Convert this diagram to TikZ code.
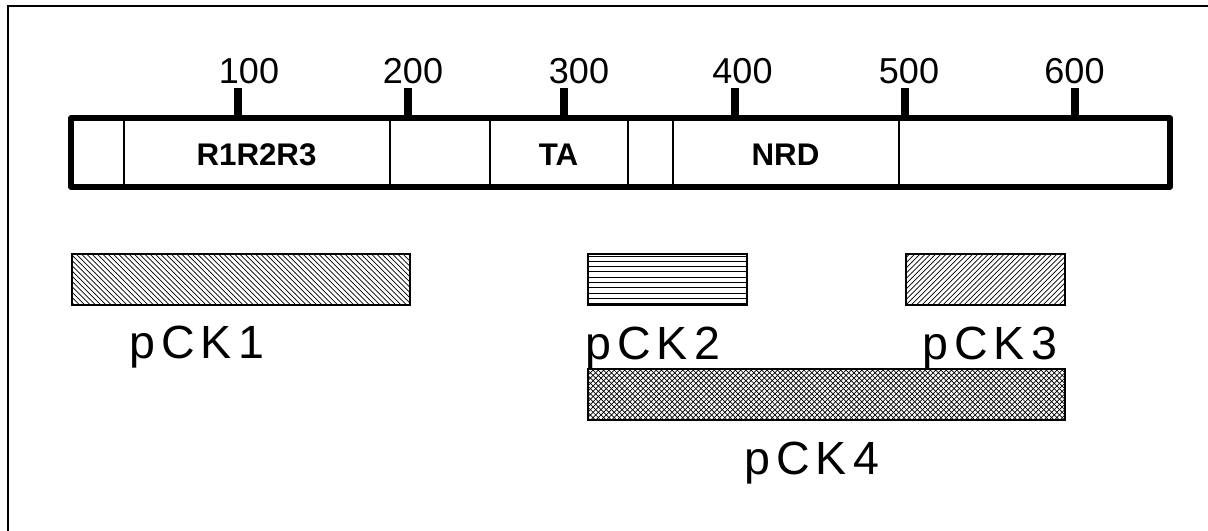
\documentclass[tikz,border=0pt]{standalone}
\usepackage{fontspec}
\setmainfont{Liberation Sans}
\newfontfamily\spacedsans[LetterSpace=13]{Liberation Sans}
\usetikzlibrary{patterns}

\begin{document}
\begin{tikzpicture}[x=0.02cm, y=-0.02cm]
  \useasboundingbox (0,0) rectangle (1208,531);
  \draw[line width=1.3pt] (8,531) -- (8,6) -- (1208,6);
  \begin{scope}
    % scale
    \begin{scope}[every node/.style={anchor=base, inner sep=0pt, font=\fontsize{20.5}{23}\selectfont}]
      \foreach \t/\x/\lx in {100/238/249, 200/408/413, 300/564/579, 400/735/742.5, 500/905/909, 600/1075/1074.5} {
        \draw[line width=4pt] (\x,88) -- (\x,118);
        \node (t\t) at (\lx,83) {\t};
      }
    \end{scope}
    % protein bar
    \foreach \x in {124, 390, 490, 628, 673, 899}
      \draw[line width=1.1pt] (\x,118) -- (\x,187);
    \draw[line width=3.1pt, line join=round] (71,118) rectangle (1170,187);
    \begin{scope}[every node/.style={anchor=base, inner sep=0pt, font=\fontsize{17.8}{20}\selectfont\bfseries}]
      \node (rrr) at (256.5,165) {R1R2R3};
      \node (ta) at (558.5,165) {TA};
      \node (nrd) at (785.5,165) {NRD};
    \end{scope}
  \end{scope}
  \begin{scope}
    % clones
    \begin{scope}[every path/.style={draw=black, line width=0.6pt}]
      \path[pattern=north west lines] (72,254) rectangle (410,305);
      \path[pattern=horizontal lines] (588,254) rectangle (747,305);
      \path[pattern=north east lines] (906,254) rectangle (1065,305);
      \path[pattern=crosshatch] (588,369) rectangle (1065,420);
    \end{scope}
    \begin{scope}[every node/.style={anchor=base west, inner sep=0pt, font=\spacedsans\fontsize{26.5}{30}\selectfont}]
      \node (pck1) at (129,358) {pCK1};
      \node (pck2) at (585,359) {pCK2};
      \node (pck3) at (922,359) {pCK3};
      \node (pck4) at (744,474) {pCK4};
    \end{scope}
  \end{scope}
\end{tikzpicture}
\end{document}
